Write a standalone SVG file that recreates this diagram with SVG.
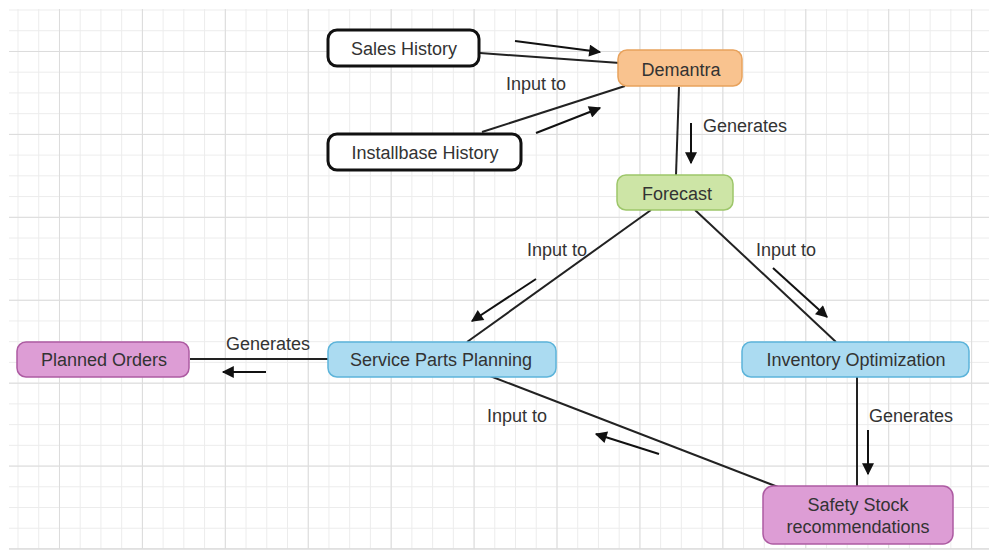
<svg xmlns="http://www.w3.org/2000/svg" width="989" height="550" viewBox="0 0 989 550">
<defs>
<pattern id="minor" patternUnits="userSpaceOnUse" x="17.5" y="9.5" width="20.73" height="20.73">
<path d="M0.5 0V20.73M0 0.5H20.73" stroke="#ececec" stroke-width="1" fill="none"/>
</pattern>
<pattern id="major" patternUnits="userSpaceOnUse" x="59" y="51" width="82.92" height="82.92">
<path d="M0.5 0V82.92M0 0.5H82.92" stroke="#dcdcdc" stroke-width="1" fill="none"/>
</pattern>
<marker id="ah" viewBox="0 0 10 10" refX="9" refY="5" markerWidth="7" markerHeight="6" markerUnits="strokeWidth" orient="auto">
<path d="M0 0L10 5L0 10z" fill="#111"/>
</marker>
<style>
text{font-family:"Liberation Sans",Arial,sans-serif;font-size:18px;fill:#333;text-anchor:middle;dominant-baseline:central}
.bw{fill:#fff;stroke:#111;stroke-width:3}
.or{fill:#f9c38f;stroke:#e8a25c;stroke-width:1.5}
.gr{fill:#cde5a6;stroke:#9dc66a;stroke-width:1.5}
.bl{fill:#abdbf1;stroke:#5cb4da;stroke-width:1.5}
.pk{fill:#dd9dd5;stroke:#ad5ba2;stroke-width:1.5}
.ln{stroke:#222;stroke-width:2;fill:none}
.ar{stroke:#111;stroke-width:2;fill:none;marker-end:url(#ah)}
</style>
</defs>
<rect width="989" height="550" fill="#fff"/>
<rect x="9" y="9" width="980" height="540" fill="url(#minor)"/>
<rect x="9" y="9" width="980" height="540" fill="url(#major)"/>
<line x1="9" y1="549" x2="989" y2="549" stroke="#dcdcdc" stroke-width="1.5"/>

<g id="connectors">
<line class="ln" x1="480" y1="53" x2="620" y2="63"/>
<line class="ar" x1="515" y1="41" x2="600" y2="52"/>
<line class="ln" x1="482" y1="132" x2="625" y2="86"/>
<line class="ar" x1="536" y1="133" x2="600" y2="108"/>
<text x="536" y="84">Input to</text>
<line class="ln" x1="679" y1="87" x2="676" y2="175"/>
<line class="ar" x1="691" y1="123" x2="691" y2="163"/>
<text x="745" y="126">Generates</text>
<line class="ln" x1="651" y1="210" x2="467" y2="342"/>
<line class="ar" x1="536" y1="279" x2="472" y2="321"/>
<text x="557" y="250">Input to</text>
<line class="ln" x1="695" y1="210" x2="836" y2="342"/>
<line class="ar" x1="773" y1="268" x2="827" y2="317"/>
<text x="786" y="250">Input to</text>
<line class="ln" x1="190" y1="359" x2="328" y2="359"/>
<line class="ar" x1="266" y1="372" x2="223" y2="372"/>
<text x="268" y="344">Generates</text>
<line class="ln" x1="490" y1="376" x2="778" y2="487"/>
<line class="ar" x1="659" y1="454" x2="596" y2="434"/>
<text x="517" y="416">Input to</text>
<line class="ln" x1="857" y1="377" x2="857" y2="486"/>
<line class="ar" x1="868" y1="430" x2="868" y2="474"/>
<text x="911" y="416">Generates</text>
</g>

<g id="sales-history">
<rect class="bw" x="328" y="30" width="151" height="36" rx="9"/>
<text x="404" y="49">Sales History</text>
</g>
<g id="installbase-history">
<rect class="bw" x="328" y="134" width="193" height="36" rx="9"/>
<text x="425" y="153">Installbase History</text>
</g>
<g id="demantra">
<rect class="or" x="618" y="50" width="124" height="36" rx="9"/>
<text x="681" y="70">Demantra</text>
</g>
<g id="forecast">
<rect class="gr" x="617" y="175" width="116" height="35" rx="9"/>
<text x="677" y="194">Forecast</text>
</g>
<g id="planned-orders">
<rect class="pk" x="17" y="342" width="172" height="35" rx="9"/>
<text x="104" y="360">Planned Orders</text>
</g>
<g id="service-parts-planning">
<rect class="bl" x="328" y="342" width="228" height="35" rx="9"/>
<text x="441" y="360">Service Parts Planning</text>
</g>
<g id="inventory-optimization">
<rect class="bl" x="742" y="342" width="227" height="35" rx="9"/>
<text x="856" y="360">Inventory Optimization</text>
</g>
<g id="safety-stock">
<rect class="pk" x="763" y="486" width="190" height="58" rx="10"/>
<text x="858" y="505">Safety Stock</text>
<text x="858" y="527">recommendations</text>
</g>
</svg>
